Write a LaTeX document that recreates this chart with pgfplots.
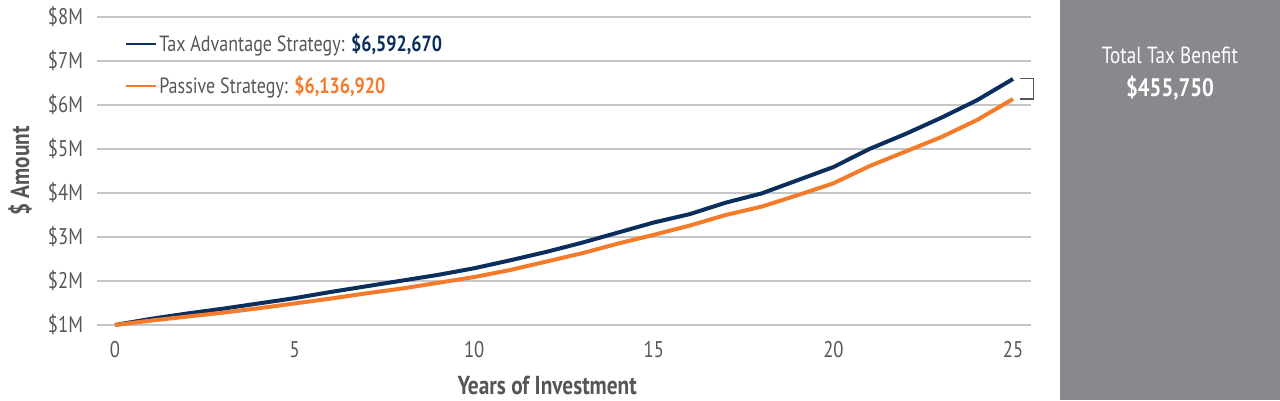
\documentclass[border=0pt]{standalone}
\usepackage{fontspec}
\setmainfont{PT Sans}[FakeStretch=0.82]
\usepackage{pgfplots}
\pgfplotsset{compat=1.18}
\definecolor{navy}{HTML}{0B2E5C}
\definecolor{orng}{HTML}{F47B2A}
\definecolor{panel}{HTML}{88898D}
\definecolor{gridc}{HTML}{C6C6C6}
\definecolor{txt}{HTML}{55565A}
\begin{document}
\begin{tikzpicture}
\path[use as bounding box] (0,0) rectangle (960pt,300pt);
\fill[panel] (795pt,0) rectangle (960pt,300pt);
\begin{axis}[
  at={(72.75pt,56.25pt)}, anchor=south west,
  scale only axis, width=700.5pt, height=231pt,
  xmin=-0.5, xmax=25.5, ymin=1, ymax=8,
  axis line style={draw=none},
  major tick length=0pt,
  xtick={0,5,10,15,20,25},
  ytick={1,2,3,4,5,6,7,8},
  yticklabels={\$1M,\$2M,\$3M,\$4M,\$5M,\$6M,\$7M,\$8M},
  ymajorgrids, grid style={gridc, line width=1.4pt},
  tick label style={font=\fontsize{17}{19}\selectfont, text=txt},
  /pgf/number format/assume math mode=true,
  yticklabel style={xshift=-7pt},
  xticklabel style={yshift=-9pt},
  xlabel={\textbf{Years of Investment}},
  ylabel={\textbf{\$ Amount}},
  label style={font=\fontsize{19.5}{21}\selectfont, text=txt},
  xlabel style={at={(axis description cs:0.482,-0.195)}, anchor=center},
  ylabel style={at={(axis description cs:-0.0825,0.5)}, anchor=center},
  clip=false,
  legend style={draw=none, fill=none, at={(axis description cs:0.03,0.955)}, anchor=north west,
    font=\fontsize{16.5}{18}\selectfont, text=txt, row sep=13pt, inner sep=0pt},
  legend cell align=left,
  legend image code/.code={\draw[#1, line width=1.5pt] (0pt,0pt) -- (22pt,0pt);},
]
\addplot[navy, line width=3pt] coordinates {
(0,1.0) (1,1.14) (2,1.26) (3,1.37) (4,1.49) (5,1.61) (6,1.75) (7,1.88) (8,2.01) (9,2.14)
(10,2.29) (11,2.47) (12,2.66) (13,2.87) (14,3.10) (15,3.33) (16,3.52) (17,3.78) (18,3.99)
(19,4.29) (20,4.59) (21,5.00) (22,5.34) (23,5.71) (24,6.11) (25,6.59267)};
\addlegendentry{Tax Advantage Strategy: \textbf{\textcolor{navy}{\$6,592,670}}}
\addplot[orng, line width=3pt] coordinates {
(0,1.0) (1,1.10) (2,1.19) (3,1.28) (4,1.38) (5,1.49) (6,1.60) (7,1.72) (8,1.83) (9,1.96)
(10,2.09) (11,2.25) (12,2.44) (13,2.63) (14,2.85) (15,3.05) (16,3.26) (17,3.50) (18,3.69)
(19,3.95) (20,4.22) (21,4.61) (22,4.94) (23,5.27) (24,5.66) (25,6.13692)};
\addlegendentry{Passive Strategy: \textbf{\textcolor{orng}{\$6,136,920}}}
\draw[txt, line width=0.8pt] (axis cs:25.18,6.59267) -- (axis cs:25.58,6.59267) -- (axis cs:25.58,6.13692) -- (axis cs:25.18,6.13692);
\end{axis}
\node[white, font=\fontsize{17.5}{19}\selectfont] at (877.5pt,258.75pt) {Total Tax Benefit};
\node[white, font=\fontsize{19}{21}\selectfont\bfseries] at (877.5pt,234pt) {\$455,750};
\end{tikzpicture}
\end{document}
